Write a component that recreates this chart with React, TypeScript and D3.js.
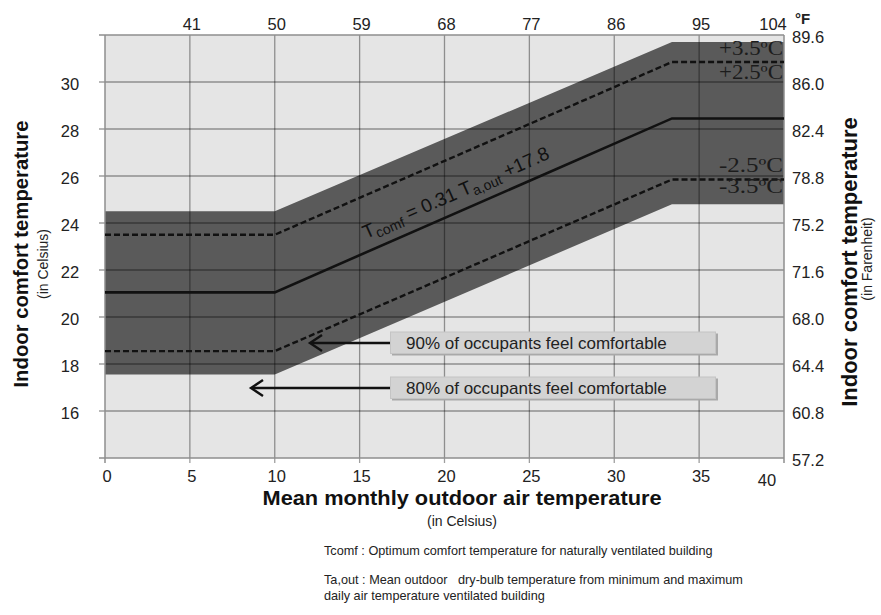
import React from "react";
import * as d3 from "d3";

// ---- data ----
const tempC = [0, 10, 33.4, 40];
const comfort = [21.05, 21.05, 28.45, 28.45];
const upper90 = [23.5, 23.5, 30.85, 30.85];
const lower90 = [18.55, 18.55, 25.85, 25.85];
const upper80 = [24.5, 24.5, 31.7, 31.7];
const lower80 = [17.55, 17.55, 24.8, 24.8];

const xTicks = [0, 5, 10, 15, 20, 25, 30, 35, 40];
const topTickLabels = ["41", "50", "59", "68", "77", "86", "95", "104"];
const yTicks = [16, 18, 20, 22, 24, 26, 28, 30];
const rightTickLabels = ["57.2", "60.8", "64.4", "68.0", "71.6", "75.2", "78.8", "82.4", "86.0", "89.6"];
const rightTickValues = [14, 16, 18, 20, 22, 24, 26, 28, 30, 32];
const bandLabels = ["+3.5ºC", "+2.5ºC", "-2.5ºC", "-3.5ºC"];
const occupantLabels = ["90% of occupants feel comfortable", "80% of occupants feel comfortable"];

const W = 881, H = 615;
const L = 105, R = 784, T = 35, B = 458;
const SANS = "'Liberation Sans', Arial, sans-serif";
const SERIF = "'Liberation Serif', 'Times New Roman', serif";

export default function App() {
  const x = d3.scaleLinear().domain([0, 40]).range([L, R]);
  const y = d3.scaleLinear().domain([14, 32]).range([B, T]);

  const pts = (arr: number[]) => tempC.map((t, i) => [t, arr[i]] as [number, number]);
  const line = d3.line<[number, number]>().x(d => x(d[0])).y(d => y(d[1]));
  const area = d3
    .area<number>()
    .x((_, i) => x(tempC[i]))
    .y0((_, i) => y(lower80[i]))
    .y1((_, i) => y(upper80[i]));

  const slopePx = (y(comfort[2]) - y(comfort[1])) / (x(tempC[2]) - x(tempC[1]));
  const angle = (Math.atan(slopePx) * 180) / Math.PI;

  const grid = "rgba(0,0,0,0.38)";
  const txt = "#222";
  const fs = 16.5;

  const boxes = [
    { label: occupantLabels[0], top: 332, tip: 310 },
    { label: occupantLabels[1], top: 377, tip: 251 },
  ];

  return (
    <svg width={W} height={H} style={{ position: "absolute", left: 0, top: 0 }} fontFamily={SANS}>
      <rect x={0} y={0} width={W} height={H} fill="#fff" />
      {/* plot bg */}
      <rect x={L} y={T} width={R - L} height={B - T} fill="#e5e5e5" />
      {/* band */}
      <path d={area(tempC) || ""} fill="#5a5a5a" />
      {/* grid */}
      {xTicks.slice(1, -1).map(t => (
        <line key={"vx" + t} x1={x(t)} x2={x(t)} y1={T} y2={B + 5} stroke={grid} strokeWidth={1.3} />
      ))}
      {yTicks.map(t => (
        <line key={"hy" + t} x1={L - 6} x2={R} y1={y(t)} y2={y(t)} stroke={grid} strokeWidth={1.3} />
      ))}
      {/* borders */}
      <line x1={L - 6} x2={R} y1={T} y2={T} stroke="#8e8e8e" strokeWidth={1.5} />
      <line x1={L - 6} x2={R} y1={B} y2={B} stroke="#8e8e8e" strokeWidth={1.5} />
      <line x1={L} x2={L} y1={T} y2={B + 5} stroke="#8e8e8e" strokeWidth={1.5} />
      <line x1={R} x2={R} y1={T} y2={B + 5} stroke="#8e8e8e" strokeWidth={1.5} />

      {/* lines */}
      {[upper90, lower90].map((arr, i) => (
        <path key={"d" + i} d={line(pts(arr)) || ""} fill="none" stroke="#111" strokeWidth={2.4} strokeDasharray="6,3" />
      ))}
      <path d={line(pts(comfort)) || ""} fill="none" stroke="#111" strokeWidth={2.6} />

      {/* band labels */}
      {[
        { t: bandLabels[0], yb: 55 },
        { t: bandLabels[1], yb: 79 },
        { t: bandLabels[2], yb: 172 },
        { t: bandLabels[3], yb: 193 },
      ].map(d => (
        <text key={d.t} x={R - 1} y={d.yb} textAnchor="end" fontFamily={SERIF} fontSize={20} fill="#1c1c1c"
          textLength={64} lengthAdjust="spacingAndGlyphs">
          {d.t}
        </text>
      ))}

      {/* equation */}
      <g transform={`translate(366,239) rotate(${angle})`}>
        <text fontSize={19} fill="#111">
          T<tspan fontSize={14} dy={4}>comf</tspan>
          <tspan dy={-4}> = 0.31 T</tspan>
          <tspan fontSize={14} dy={4}>a,out</tspan>
          <tspan dy={-4}> +17.8</tspan>
        </text>
      </g>

      {/* occupant boxes */}
      {boxes.map(b => (
        <g key={b.label}>
          <rect x={392} y={b.top + 1.5} width={326} height={22} fill="#a9a9a9" />
          <rect x={390.5} y={b.top} width={325} height={21.5} fill="#d3d3d3" stroke="#c4c4c4" strokeWidth={1} />
          <text x={406} y={b.top + 16.5} fontSize={17} fill={txt}>{b.label}</text>
          <line x1={390} x2={b.tip + 1} y1={b.top + 11} y2={b.top + 11} stroke="#111" strokeWidth={2.4} />
          <path d={`M${b.tip + 12},${b.top + 3} L${b.tip},${b.top + 11} L${b.tip + 12},${b.top + 19}`} fill="none" stroke="#111" strokeWidth={2.4} />
        </g>
      ))}

      {/* bottom axis labels */}
      {xTicks.map((t, i) => (
        <text key={"xl" + t} x={i === xTicks.length - 1 ? x(t) - 17 : x(t) + 2} y={i === xTicks.length - 1 ? 486 : 482}
          textAnchor="middle" fontSize={fs} fill={txt}>{t}</text>
      ))}
      {/* top axis labels */}
      {topTickLabels.map((t, i) => (
        <text key={"tl" + t} x={i === topTickLabels.length - 1 ? x(xTicks[i + 1]) - 11 : x(xTicks[i + 1]) + 2} y={29.5}
          textAnchor="middle" fontSize={fs} fill={txt}>{t}</text>
      ))}
      <text x={795} y={24} fontSize={15} fontWeight="bold" fill={txt}>°F</text>
      {/* left axis labels */}
      {yTicks.map(t => (
        <text key={"yl" + t} x={70} y={y(t) + 8} textAnchor="middle" fontSize={fs} fill={txt}>{t}</text>
      ))}
      {/* right axis labels */}
      {rightTickValues.map((v, i) => (
        <text key={"rl" + v} x={792} y={y(v) + 8} fontSize={fs} fill={txt}>{rightTickLabels[i]}</text>
      ))}

      {/* axis titles */}
      <text transform="translate(28,254) rotate(-90)" textAnchor="middle" fontSize={20.3} fontWeight="bold" fill="#111">
        Indoor comfort temperature
      </text>
      <text transform="translate(48,264) rotate(-90)" textAnchor="middle" fontSize={14} fill={txt}>
        (in Celsius)
      </text>
      <text transform="translate(857,262) rotate(-90)" textAnchor="middle" fontSize={22} fontWeight="bold" fill="#111">
        Indoor comfort temperature
      </text>
      <text transform="translate(872,259) rotate(-90)" textAnchor="middle" fontSize={14} fill={txt}>
        (in Farenheit)
      </text>
      <text x={462} y={505} textAnchor="middle" fontSize={20} fontWeight="bold" fill="#111"
        textLength={399} lengthAdjust="spacingAndGlyphs">
        Mean monthly outdoor air temperature
      </text>
      <text x={462} y={526} textAnchor="middle" fontSize={14} fill={txt}>
        (in Celsius)
      </text>

      {/* notes */}
      <g fontSize={12.7} fill={txt} style={{ whiteSpace: "pre" }}>
        <text x={324} y={555}>Tcomf : Optimum comfort temperature for naturally ventilated building</text>
        <text x={324} y={584} xmlSpace="preserve">Ta,out : Mean outdoor   dry-bulb temperature from minimum and maximum</text>
        <text x={324} y={600}>daily air temperature ventilated building</text>
      </g>
    </svg>
  );
}
